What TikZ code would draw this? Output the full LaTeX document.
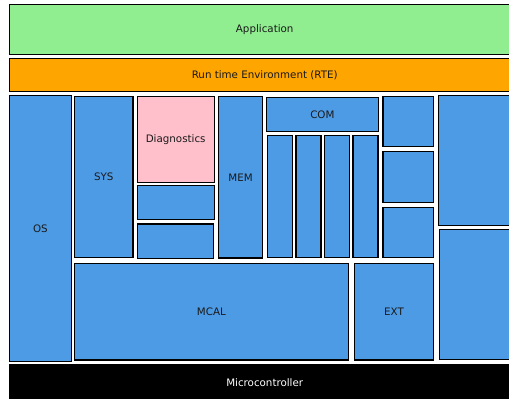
\documentclass[tikz,border=0pt]{standalone}
\usepackage{fontspec}
\setmainfont{DejaVu Sans}
\definecolor{appgreen}{HTML}{90EE90}
\definecolor{rteorange}{HTML}{FFA500}
\definecolor{bswblue}{HTML}{4D9BE5}
\definecolor{diagpink}{HTML}{FFC0CB}
\tikzset{
  layer/.style={draw=black, line width=1.4pt, inner sep=0pt, fill=bswblue,
    font=\fontsize{10.3}{12}\selectfont, text=black!90, anchor=north west},
}
% \modbox[options]{name}{left}{top}{right}{bottom}{text}
\newcommand\modbox[7][]{%
  \node[layer, minimum width={(#5-#3)*1pt}, minimum height={(#6-#4)*1pt}, #1]
    (#2) at (#3,#4) {#7};}
\begin{document}
\begin{tikzpicture}[x=1pt, y=-1pt]
  \useasboundingbox (0,0) rectangle (509,399);
  \clip (0,0) rectangle (509,399);
  % upper layers
  \modbox[fill=appgreen]{app}{9}{3.5}{519}{53.5}{Application}
  \modbox[fill=rteorange]{rte}{9}{57.5}{519}{91}{Run time Environment (RTE)}
  % basic software
  \modbox{os}{9}{95}{70.5}{360.5}{OS}
  \modbox{sys}{73.7}{96}{132.3}{256.7}{SYS}
  \modbox[fill=diagpink]{diag}{136.5}{96}{213.5}{181.7}{Diagnostics}
  \modbox{diaga}{136.5}{184.7}{213.5}{219}{}
  \modbox{diagb}{137}{223.3}{213}{257.5}{}
  \modbox{mem}{218}{96}{261.7}{257.3}{MEM}
  \modbox{com}{265.7}{96.7}{377.7}{130.7}{COM}
  \modbox{coma}{266.7}{134.7}{291.7}{256.7}{}
  \modbox{comb}{295.3}{134.7}{320.3}{256.7}{}
  \modbox{comc}{324}{134.7}{349}{256.7}{}
  \modbox{comd}{352.3}{134.7}{377.3}{256.7}{}
  \modbox{ioa}{382.3}{95.7}{433}{145.7}{}
  \modbox{iob}{382.3}{150.7}{433}{201.7}{}
  \modbox{ioc}{382.3}{206.7}{433}{256.7}{}
  \modbox{cdda}{437.7}{94.7}{519}{225}{}
  \modbox{cddb}{438.7}{228.7}{519}{359}{}
  \modbox{mcal}{73.7}{262.7}{347.7}{359.3}{MCAL}
  \modbox{ext}{353.7}{262.7}{433}{359.3}{EXT}
  % hardware
  \modbox[fill=black, text=white]{mcu}{9}{363.5}{519}{401}{Microcontroller}
\end{tikzpicture}
\end{document}
